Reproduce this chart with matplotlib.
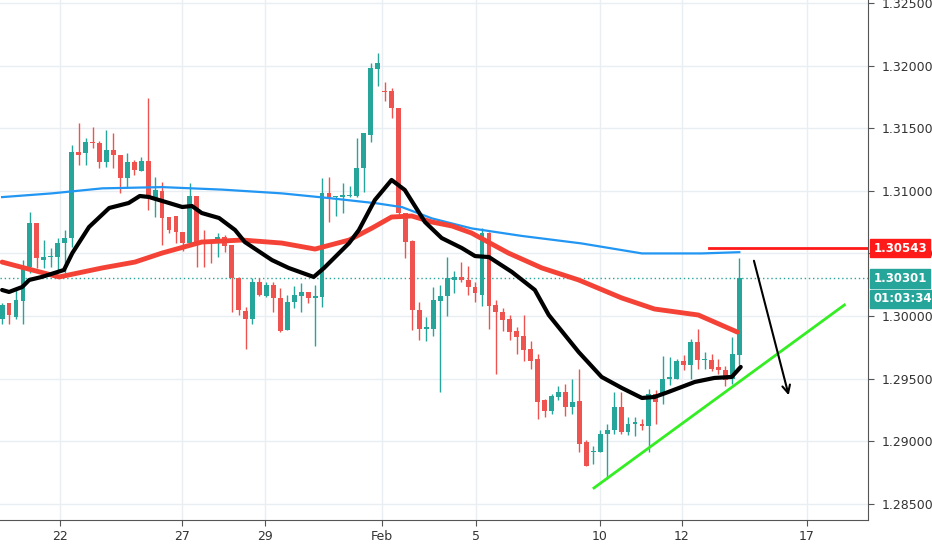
import matplotlib
matplotlib.use("Agg")
import matplotlib.pyplot as plt
import numpy as np

opens = [1.2998,1.3010,1.2999,1.3012,1.3039,1.3074,1.3045,1.3047,1.3047,1.3058,
         1.3062,1.3131,1.3130,1.3139,1.3138,1.3123,1.3133,1.3129,1.3110,1.3123,
         1.3116,1.3124,1.3094,1.3100,1.3079,1.3080,1.3067,1.3058,1.3096,1.3061,
         1.3059,1.3058,1.3063,1.3057,1.3030,1.3004,1.2998,1.3027,1.3016,1.3025,
         1.3014,1.2989,1.3011,1.3016,1.3019,1.3014,1.3015,1.3098,1.3095,1.3095,
         1.3096,1.3096,1.3118,1.3145,1.3197,1.3180,1.3180,1.3166,1.3082,1.3060,
         1.3005,1.2990,1.2990,1.3012,1.3016,1.3029,1.3031,1.3029,1.3023,1.3017,
         1.3066,1.3009,1.3003,1.2998,1.2988,1.2984,1.2974,1.2966,1.2933,1.2924,
         1.2935,1.2939,1.2927,1.2932,1.2899,1.2891,1.2891,1.2906,1.2909,1.2927,
         1.2907,1.2914,1.2914,1.2912,1.2938,1.2937,1.2950,1.2950,1.2964,1.2961,
         1.2979,1.2965,1.2965,1.2959,1.2957,1.2950,1.2969]
closes = [1.3009,1.3001,1.3013,1.3039,1.3074,1.3046,1.3047,1.3048,1.3058,1.3062,
          1.3131,1.3129,1.3139,1.3138,1.3123,1.3133,1.3129,1.3110,1.3123,1.3117,
          1.3124,1.3094,1.3101,1.3078,1.3069,1.3067,1.3058,1.3096,1.3058,1.3058,
          1.3058,1.3063,1.3056,1.3030,1.3005,1.2998,1.3027,1.3017,1.3025,1.3014,
          1.2988,1.3011,1.3017,1.3019,1.3014,1.3016,1.3098,1.3095,1.3096,1.3097,
          1.3097,1.3118,1.3146,1.3198,1.3202,1.3179,1.3166,1.3082,1.3059,1.3005,
          1.2990,1.2991,1.3013,1.3016,1.3030,1.3031,1.3029,1.3023,1.3018,1.3066,
          1.3008,1.3003,1.2997,1.2987,1.2983,1.2973,1.2964,1.2931,1.2924,1.2936,
          1.2939,1.2927,1.2931,1.2898,1.2880,1.2892,1.2906,1.2909,1.2927,1.2907,
          1.2914,1.2915,1.2912,1.2938,1.2931,1.2950,1.2951,1.2964,1.2961,1.2979,
          1.2965,1.2966,1.2958,1.2957,1.2949,1.2970,1.30301]
highs = [1.3010,1.3010,1.3021,1.3045,1.3083,1.3074,1.3061,1.3054,1.3062,1.3069,
         1.3137,1.3154,1.3142,1.3151,1.3140,1.3149,1.3146,1.3129,1.3130,1.3125,
         1.3127,1.3174,1.3111,1.3107,1.3079,1.3080,1.3067,1.3106,1.3096,1.3069,
         1.3060,1.3066,1.3065,1.3057,1.3031,1.3007,1.3030,1.3030,1.3027,1.3027,
         1.3022,1.3017,1.3024,1.3026,1.3019,1.3025,1.3110,1.3111,1.3096,1.3106,
         1.3104,1.3142,1.3146,1.3202,1.3210,1.3187,1.3182,1.3166,1.3082,1.3061,
         1.3011,1.2999,1.3023,1.3025,1.3047,1.3036,1.3043,1.3040,1.3027,1.3070,
         1.3067,1.3013,1.3006,1.3001,1.2991,1.3001,1.2980,1.2970,1.2934,1.2938,
         1.2944,1.2946,1.2950,1.2958,1.2901,1.2896,1.2909,1.2914,1.2939,1.2939,
         1.2919,1.2919,1.2918,1.2942,1.2941,1.2968,1.2967,1.2966,1.2969,1.2982,
         1.2990,1.2971,1.2970,1.2966,1.2960,1.2983,1.3046]
lows = [1.2994,1.2994,1.2998,1.2994,1.3034,1.3038,1.3038,1.3039,1.3034,1.3034,
        1.3055,1.3121,1.3121,1.3134,1.3118,1.3119,1.3118,1.3098,1.3102,1.3113,
        1.3116,1.3085,1.3079,1.3057,1.3066,1.3058,1.3052,1.3058,1.3039,1.3039,
        1.3042,1.3047,1.3051,1.3003,1.3001,1.2974,1.2994,1.3016,1.3015,1.3003,
        1.2987,1.2989,1.3006,1.3003,1.3010,1.2976,1.3007,1.3075,1.3080,1.3082,
        1.3095,1.3095,1.3099,1.3139,1.3184,1.3172,1.3158,1.3080,1.3046,1.2989,
        1.2981,1.2980,1.2984,1.2939,1.3000,1.3018,1.3027,1.3017,1.3011,1.3008,
        1.2990,1.2954,1.2988,1.2981,1.2970,1.2964,1.2958,1.2918,1.2919,1.2922,
        1.2933,1.2920,1.2922,1.2891,1.2880,1.2882,1.2891,1.2870,1.2906,1.2906,
        1.2905,1.2904,1.2909,1.2891,1.2914,1.2930,1.2945,1.2950,1.2957,1.2950,
        1.2958,1.2958,1.2956,1.2954,1.2944,1.2946,1.2961]

# moving averages sampled at bar positions
ma_slow_x = [0,7.2,14.4,23,31.6,40.2,47.4,53.9,57.5,61.8,67.5,74.7,83.3,92,100.6,106]
ma_slow_y = [1.3095,1.3098,1.3102,1.3103,1.3101,1.3098,1.3094,1.3090,1.3087,1.3078,
             1.3070,1.3064,1.3058,1.3050,1.3050,1.3051]
ma_mid_x = [0,4.3,8.2,14.4,19.1,23.0,28.7,34.5,40.2,45.0,49.9,53.2,56.0,58.9,61.8,
            64.7,67.5,72.8,77.6,82.9,89.1,93.8,100.1,105.7]
ma_mid_y = [1.30431,1.30368,1.30312,1.30384,1.30431,1.30503,1.30591,1.30607,1.30583,
            1.30535,1.30607,1.30703,1.30791,1.30799,1.30751,1.30719,1.30663,1.30503,
            1.30384,1.30288,1.30144,1.30056,1.30008,1.29872]
ma_fast_x = [0,1.0,2.9,3.9,5.7,8.9,10.1,12.5,15.4,18.2,19.8,21.1,24.0,25.9,27.3,28.7,
             31.2,33.5,34.9,38.8,41.2,44.8,46.3,49.9,51.3,53.6,56.0,57.9,60.8,63.2,
             66.1,68.0,70.0,73.3,76.6,78.6,82.9,86.2,89.1,92.0,93.8,95.8,99.6,102.4,
             104.9,106.2]
ma_fast_y = [1.30208,1.30192,1.30232,1.30288,1.30312,1.30368,1.30503,1.30711,1.30863,
             1.30903,1.30959,1.30951,1.30903,1.30871,1.30879,1.30823,1.30783,1.30687,
             1.30591,1.30447,1.30384,1.30312,1.30384,1.30583,1.30687,1.30927,1.31087,
             1.31007,1.30751,1.30623,1.30543,1.30479,1.30471,1.30352,1.30208,1.30008,
             1.29712,1.29513,1.29425,1.29345,1.29353,1.29393,1.29473,1.29505,1.29513,
             1.29593]

tick_pos = [8.3,25.9,37.8,54.6,68.2,85.9,97.7,115.7]
tick_labels = ["22","27","29","Feb","5","10","12","17"]
price_ticks = [1.285,1.290,1.295,1.300,1.305,1.310,1.315,1.320,1.325]

resistance = 1.30543
last_price = 1.30301
trend_x = [85.1,121.1]; trend_y = [1.28626,1.30088]
arrow_start = (108.0,1.30463); arrow_end = (113.2,1.29345)

GREEN = "#26a69a"; RED = "#ef5350"
fig = plt.figure(figsize=(9.32,5.5), dpi=100)
ax = fig.add_axes([0, 30/550, 868/932, 520/550])
ax.set_xlim(-0.3, 124.5)
ax.set_ylim(1.28370, 1.32525)

for i,(o,h,l,c) in enumerate(zip(opens,highs,lows,closes)):
    col = GREEN if c >= o else RED
    ax.vlines(i, l, h, color=col, lw=1, zorder=3)
    ax.bar(i, max(abs(c-o),0.00003), bottom=min(o,c), width=0.7, color=col, zorder=3)

ax.plot(ma_slow_x, ma_slow_y, color="#2196f3", lw=1.6, zorder=4)
ax.plot(ma_mid_x, ma_mid_y, color="#f44336", lw=3.5, zorder=4, solid_capstyle="round")
ax.plot(ma_fast_x, ma_fast_y, color="black", lw=3, zorder=5, solid_capstyle="round",
        solid_joinstyle="round")

ax.axhline(last_price, color=GREEN, lw=1, ls=(0,(1,2)), zorder=2)
ax.plot([101.7,124.5],[resistance,resistance], color="#ff1a1a", lw=2, zorder=6)
ax.plot(trend_x, trend_y, color="#33ee22", lw=2, zorder=6)
ax.annotate("", xy=arrow_end, xytext=arrow_start,
            arrowprops=dict(arrowstyle="->", color="black", lw=1.5, mutation_scale=14), zorder=7)

ax.set_xticks(tick_pos)
ax.set_xticklabels(tick_labels)
ax.set_yticks(price_ticks)
ax.set_yticklabels([f"{p:.5f}" for p in price_ticks])
ax.yaxis.tick_right()
ax.grid(True, color="#e9eef3", lw=1)
ax.set_axisbelow(True)
ax.tick_params(colors="#333333", labelsize=9, length=4, color="#555555")
ax.tick_params(axis="y", pad=6)
for s in ["top","left"]:
    ax.spines[s].set_visible(False)
ax.spines["right"].set_color("#555555")
ax.spines["bottom"].set_color("#555555")

boxes = [(resistance,"1.30543","#ff1a1a"),(last_price,"1.30301",GREEN),
         (last_price-0.00165,"01:03:34",GREEN)]
for y, txt, col in boxes:
    ax.text(1.006, y, txt, transform=ax.get_yaxis_transform(), ha="left", va="center",
            color="white", fontsize=8.5, fontweight="bold",
            bbox=dict(boxstyle="square,pad=0.25", fc=col, ec=col), zorder=10, clip_on=False)

fig.savefig("out.png", dpi=100)
